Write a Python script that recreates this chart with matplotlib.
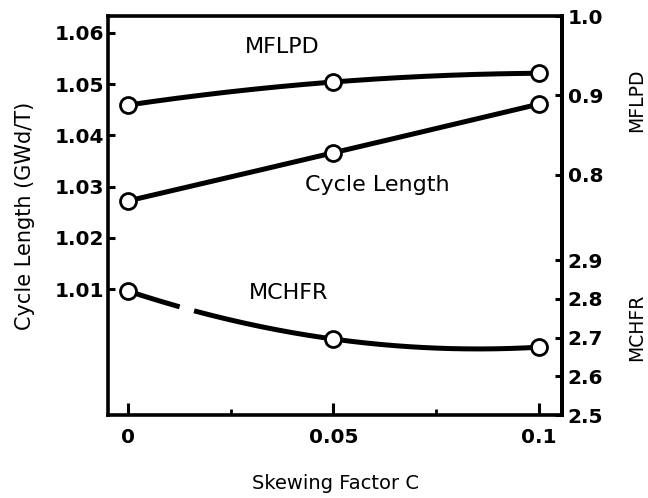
import numpy as np
import matplotlib
matplotlib.use("Agg")
import matplotlib.pyplot as plt

# ---- data ----
skew = [0.0, 0.05, 0.1]
cycle_length = [1.0272, 1.0366, 1.0461]
mflpd = [0.888, 0.917, 0.928]
mchfr = [2.82, 2.696, 2.675]

x_ticks = [0.0, 0.05, 0.1]
x_ticklabels = ["0", "0.05", "0.1"]
x_minor = [0.025, 0.075]
left_ticks = [1.01, 1.02, 1.03, 1.04, 1.05, 1.06]
left_ticklabels = ["1.01", "1.02", "1.03", "1.04", "1.05", "1.06"]
mflpd_ticks = [0.8, 0.9, 1.0]
mflpd_ticklabels = ["0.8", "0.9", "1.0"]
mchfr_ticks = [2.5, 2.6, 2.7, 2.8, 2.9]
mchfr_ticklabels = ["2.5", "2.6", "2.7", "2.8", "2.9"]

# gap in the MCHFR curve (drawing style of the original)
gap = (0.0127, 0.0159)

plt.rcParams['font.family'] = ['DejaVu Sans']

fig = plt.figure(figsize=(6.48, 4.98), dpi=100)
ax = fig.add_axes([108/648, 1-415/498, (562-108)/648, (415-16)/498])
ax2 = ax.twinx()
ax3 = ax.twinx()

LW_SP = 2.6
LW = 3.6
MS = 11.5
MEW = 2.0

xs = np.linspace(0, 0.1, 200)

def smooth(y):
    c = np.polyfit(skew, y, 2)
    return np.polyval(c, xs)

# Cycle length on left axis
ax.plot(xs, smooth(cycle_length), color='black', lw=LW, solid_capstyle='butt', zorder=2)
ax.plot(skew, cycle_length, 'o', ms=MS, mfc='white', mec='black', mew=MEW, zorder=3, clip_on=False)
ax.set_xlim(-0.00487, 0.1056)
ax.set_ylim(0.9854, 1.0633)

# MFLPD
ax2.plot(xs, smooth(mflpd), color='black', lw=LW, solid_capstyle='butt', zorder=2)
ax2.plot(skew, mflpd, 'o', ms=MS, mfc='white', mec='black', mew=MEW, zorder=3, clip_on=False)
ax2.set_ylim(0.4981, 1.0)

# MCHFR
ym = smooth(mchfr)
ym = np.where((xs > gap[0]) & (xs < gap[1]), np.nan, ym)
ax3.plot(xs, ym, color='black', lw=LW, solid_capstyle='butt', zorder=2)
ax3.plot(skew, mchfr, 'o', ms=MS, mfc='white', mec='black', mew=MEW, zorder=3, clip_on=False)
ax3.set_ylim(2.5, 2.5 + 399/387.5)

# spines
for a in (ax, ax2, ax3):
    for s in a.spines.values():
        s.set_linewidth(LW_SP)
for a in (ax2, ax3):
    for k in ('left', 'top', 'bottom'):
        a.spines[k].set_visible(False)

# ticks
tick_font = dict(fontsize=14.5, fontweight='bold')
ax.set_xticks(x_ticks)
ax.set_xticklabels(x_ticklabels, **tick_font)
ax.set_xticks(x_minor, minor=True)
ax.tick_params(axis='x', which='major', direction='in', length=8.5, width=2.2, pad=9)
ax.tick_params(axis='x', which='minor', direction='in', length=4, width=2.0)
ax.set_yticks(left_ticks)
ax.set_yticklabels(left_ticklabels, **tick_font)
ax.tick_params(axis='y', which='major', direction='in', length=5, width=2.2, pad=3, left=True, right=False)

ax2.set_yticks(mflpd_ticks)
ax2.set_yticklabels(mflpd_ticklabels, **tick_font)
ax2.tick_params(axis='y', direction='in', length=5, width=2.2, pad=4)
ax3.set_yticks(mchfr_ticks)
ax3.set_yticklabels(mchfr_ticklabels, **tick_font)
ax3.tick_params(axis='y', direction='in', length=5, width=2.2, pad=4)

# axis labels
ax.set_xlabel("Skewing Factor C", fontsize=14, labelpad=20)
ax.set_ylabel("Cycle Length (GWd/T)", fontsize=15, labelpad=14)

fig.text(637/648, 1-100/498, "MFLPD", rotation=90, ha='center', va='center', fontsize=13.5)
fig.text(637/648, 1-327/498, "MCHFR", rotation=90, ha='center', va='center', fontsize=13.5)

# curve annotations
ax.text(0.0375, 1.0633 - (47-16)/5120, "MFLPD", ha='center', va='center', fontsize=16)
ax.text(0.0607, 1.0633 - (185-16)/5120, "Cycle Length", ha='center', va='center', fontsize=16)
ax.text(0.0390, 1.0633 - (293-16)/5120, "MCHFR", ha='center', va='center', fontsize=16)

fig.savefig("out.png", dpi=100)
